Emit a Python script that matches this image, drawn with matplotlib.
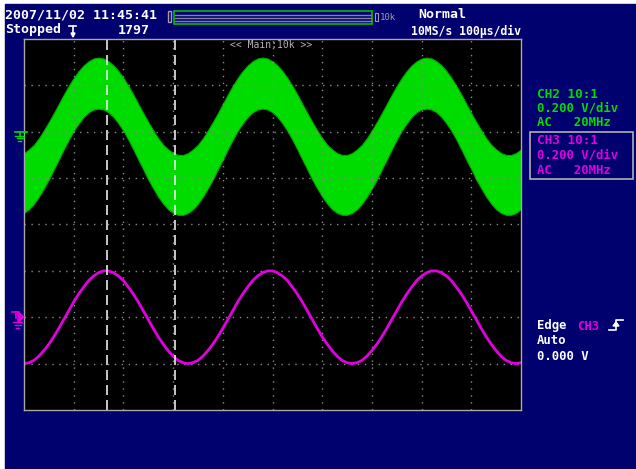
import matplotlib
matplotlib.use("Agg")
import matplotlib.pyplot as plt
import numpy as np
from matplotlib.patches import Rectangle, Polygon

# time axis in divisions (100 us/div), read every 0.1 div
t_div = np.round(np.arange(0, 10.001, 0.1), 2)

# CH2 (green) noisy band: upper / lower envelope, in divisions
ch2_upper = [1.54, 1.62, 1.72, 1.86, 2.03, 2.21, 2.40, 2.60, 2.80, 2.99, 3.16, 3.31, 3.43, 3.52, 3.58,
             3.60, 3.58, 3.52, 3.43, 3.31, 3.16, 2.99, 2.80, 2.60, 2.40, 2.21, 2.03, 1.86, 1.72, 1.62, 1.54, 1.50,
             1.50, 1.54, 1.62, 1.72, 1.86, 2.03, 2.21, 2.40, 2.60, 2.80, 2.99, 3.16, 3.31, 3.43, 3.52, 3.58,
             3.60, 3.58, 3.52, 3.43, 3.31, 3.16, 2.99, 2.80, 2.60, 2.40, 2.21, 2.03, 1.86, 1.72, 1.62, 1.54, 1.50,
             1.50, 1.54, 1.62, 1.72, 1.86, 2.03, 2.21, 2.40, 2.60, 2.80, 2.99, 3.16, 3.31, 3.43, 3.52, 3.58,
             3.60, 3.58, 3.52, 3.43, 3.31, 3.16, 2.99, 2.80, 2.60, 2.40, 2.21, 2.03, 1.86, 1.72, 1.62, 1.54, 1.50,
             1.50, 1.54, 1.62]
ch2_lower = [0.25, 0.33, 0.45, 0.60, 0.78, 0.97, 1.19, 1.40, 1.62, 1.83, 2.02, 2.18, 2.32, 2.42, 2.48,
             2.50, 2.48, 2.42, 2.32, 2.18, 2.02, 1.83, 1.62, 1.40, 1.19, 0.97, 0.78, 0.60, 0.45, 0.33, 0.25, 0.21,
             0.21, 0.25, 0.33, 0.45, 0.60, 0.78, 0.97, 1.19, 1.40, 1.62, 1.83, 2.02, 2.18, 2.32, 2.42, 2.48,
             2.50, 2.48, 2.42, 2.32, 2.18, 2.02, 1.83, 1.62, 1.40, 1.19, 0.97, 0.78, 0.60, 0.45, 0.33, 0.25, 0.21,
             0.21, 0.25, 0.33, 0.45, 0.60, 0.78, 0.97, 1.19, 1.40, 1.62, 1.83, 2.02, 2.18, 2.32, 2.42, 2.48,
             2.50, 2.48, 2.42, 2.32, 2.18, 2.02, 1.83, 1.62, 1.40, 1.19, 0.97, 0.78, 0.60, 0.45, 0.33, 0.25, 0.21,
             0.21, 0.25, 0.33]

# CH3 (magenta) trace, in divisions
ch3 = [-3.00, -2.98, -2.93, -2.84, -2.72, -2.58, -2.42, -2.24, -2.05, -1.86, -1.67, -1.50, -1.35, -1.21, -1.11, -1.04,
       -1.00, -1.00, -1.04, -1.11, -1.21, -1.35, -1.50, -1.67, -1.86, -2.05, -2.24, -2.42, -2.58, -2.72, -2.84, -2.93,
       -2.98,
       -3.00, -2.98, -2.93, -2.84, -2.72, -2.58, -2.42, -2.24, -2.05, -1.86, -1.67, -1.50, -1.35, -1.21, -1.11, -1.04,
       -1.00, -1.00, -1.04, -1.11, -1.21, -1.35, -1.50, -1.67, -1.86, -2.05, -2.24, -2.42, -2.58, -2.72, -2.84, -2.93,
       -2.98,
       -3.00, -2.98, -2.93, -2.84, -2.72, -2.58, -2.42, -2.24, -2.05, -1.86, -1.67, -1.50, -1.35, -1.21, -1.11, -1.04,
       -1.00, -1.00, -1.04, -1.11, -1.21, -1.35, -1.50, -1.67, -1.86, -2.05, -2.24, -2.42, -2.58, -2.72, -2.84, -2.93,
       -2.98,
       -3.00, -2.98]

cursors = [1.67, 3.03]

W, H = 636, 469
navy = '#00006e'
green = '#00dc00'
magenta = '#e000e0'
mono = 'DejaVu Sans Mono'

fig = plt.figure(figsize=(W / 100, H / 100), dpi=100)
fig.patch.set_facecolor('white')

bg = fig.add_axes([0, 0, 1, 1], zorder=0)
bg.set_xlim(0, W)
bg.set_ylim(H, 0)
bg.axis('off')
bg.add_patch(Rectangle((5, 4), W - 5, H - 4, color=navy))

# scope screen
x0, x1, y0, y1 = 24, 521, 39, 410
ax = fig.add_axes([x0 / W, (H - y1) / H, (x1 - x0) / W, (y1 - y0) / H], zorder=1)
ax.set_facecolor('black')
ax.set_xlim(0, 10)
ax.set_ylim(-4, 4)
ax.set_xticks([])
ax.set_yticks([])
for s in ax.spines.values():
    s.set_color('#a8a8a8')
    s.set_linewidth(1)
for i in range(1, 10):
    ax.axvline(i, color='#8a8a8a', lw=1, ls=(0, (1, 4)))
for j in range(-3, 4):
    ax.axhline(j, color='#8a8a8a', lw=1, ls=(0, (1, 4)))

ax.fill_between(t_div, ch2_lower, ch2_upper, color=green, lw=0.8, edgecolor='#00a800')
ax.plot(t_div, ch3, color=magenta, lw=2)
for c in cursors:
    ax.axvline(c, color='#e8e8e8', lw=1.2, ls=(0, (6, 3)))

# text / markers overlay in pixel coords
ov = fig.add_axes([0, 0, 1, 1], zorder=2)
ov.set_xlim(0, W)
ov.set_ylim(H, 0)
ov.axis('off')
ov.patch.set_alpha(0)

def txt(x, y, s, c='white', size=9.2, **kw):
    ov.text(x, y, s, color=c, fontsize=size, family=mono, fontweight='bold',
            va='center', ha='left', **kw)

txt(5, 15, '2007/11/02 11:45:41', size=9.5)
txt(5, 30, 'Stopped', size=9.5)
txt(118, 30, '1797', size=9.5)
txt(418, 15, 'Normal', size=9.5)
txt(411, 31, '10MS/s 100µs/div', size=8.3)

# trigger position icon
ov.plot([69, 76], [26, 26], color='white', lw=1.2)
ov.plot([72.5, 72.5], [26, 33], color='white', lw=1.2)
ov.add_patch(Polygon([[71, 33], [75, 33], [73, 37]], color='white'))

# memory bar
ov.add_patch(Rectangle((168, 11), 3, 11, fill=False, ec='#a0a0a0', lw=1))
ov.add_patch(Rectangle((174, 11), 198, 13, fill=False, ec='#00c000', lw=1.2))
for yy in [15, 18, 21]:
    ov.plot([175, 371], [yy, yy], color='#8080a0', lw=1)
ov.add_patch(Rectangle((375, 13), 3, 8, fill=False, ec='#a0a0a0', lw=0.8))
ov.text(380, 17.5, '10k', color='#a0a0a0', fontsize=6.5, family=mono, va='center')

ov.text(271, 45, '<< Main:10k >>', color='#b4b4b4', fontsize=7, family=mono,
        va='center', ha='center')

# right panel
txt(537, 94, 'CH2 10:1', green)
txt(537, 108, '0.200 V/div', green, size=8.8)
txt(537, 123, 'AC   20MHz', green, size=8.8)
ov.add_patch(Rectangle((530, 132), 103, 47, fill=False, ec='#b0b0b0', lw=1.2))
txt(537, 140, 'CH3 10:1', magenta)
txt(537, 155, '0.200 V/div', magenta, size=8.8)
txt(537, 170, 'AC   20MHz', magenta, size=8.8)

txt(537, 326, 'Edge', size=8.8)
txt(577, 326, 'CH3', magenta, size=8.8)
txt(537, 341, 'Auto', size=8.8)
txt(537, 356, '0.000 V', size=8.8)
ov.plot([609, 616, 616, 623], [330, 330, 320, 320], color='white', lw=1.2)
ov.add_patch(Polygon([[613, 326], [619, 326], [616, 322]], color='white'))

# ground markers
ov.plot([15, 24], [132, 132], color=green, lw=1.2)
ov.plot([19.5, 19.5], [132, 136], color=green, lw=1.2)
for yy, a, b in [(136, 15, 24), (138.5, 16.5, 22.5), (141, 18, 21)]:
    ov.plot([a, b], [yy, yy], color=green, lw=1)
ov.plot([24, 27], [132, 132], color=green, lw=1.2)

ov.plot([12, 19], [312, 312], color=magenta, lw=1.2)
ov.plot([15.5, 15.5], [312, 318], color=magenta, lw=1.2)
ov.add_patch(Polygon([[18, 312], [18, 322], [24, 317]], color=magenta))
for yy, a, b in [(322, 13, 22), (325, 14.5, 20.5), (328, 16, 19)]:
    ov.plot([a, b], [yy, yy], color=magenta, lw=1)

fig.savefig('out.png', dpi=100, facecolor=fig.get_facecolor())
